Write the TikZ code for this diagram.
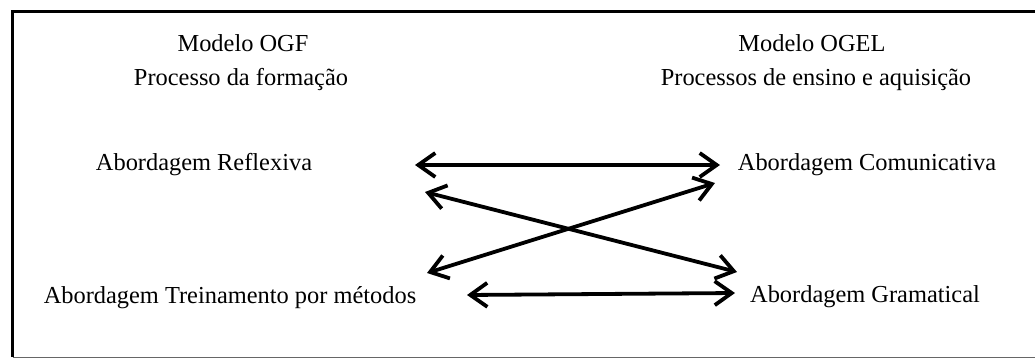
\documentclass[tikz,border=0pt]{standalone}
\usepackage{fontspec}
\setmainfont{Liberation Serif}
\usetikzlibrary{arrows.meta}
\tikzset{
  lbl/.style={inner sep=0pt, font=\fontsize{12.2}{14}\selectfont},
  link/.style={line width=1.9pt,
    {Straight Barb[length=8.5pt,width=12pt]}-{Straight Barb[length=8.5pt,width=12pt]}},
}
\begin{document}
\begin{tikzpicture}[x=0.5pt, y=-0.5pt]
  \useasboundingbox (0,0) rectangle (1035,360);

  % frame
  \draw[line width=1.7pt] (12.5,357) -- (12.5,11.5) -- (1035,11.5);
  \draw[line width=0.6pt, black!60] (12.5,357.5) -- (1035,357.5);

  % headings
  \node[lbl] (ogf)  at (243,43) {Modelo OGF};
  \node[lbl] (form) at (241,80) {Processo da formação};
  \node[lbl] (ogel) at (812,43) {Modelo OGEL};
  \node[lbl] (ens)  at (816,80) {Processos de ensino e aquisição};

  % approaches
  \node[lbl] (refl) at (204,165) {Abordagem Reflexiva};
  \node[lbl] (trei) at (230,298) {Abordagem Treinamento por métodos};
  \node[lbl] (comu) at (867,165) {Abordagem Comunicativa};
  \node[lbl] (gram) at (865,297) {Abordagem Gramatical};

  % arrow ends
  \coordinate (r1) at (415,165);
  \coordinate (r2) at (425,192);
  \coordinate (t1) at (427,273);
  \coordinate (t2) at (467,295);
  \coordinate (c1) at (720,165);
  \coordinate (c2) at (715,183);
  \coordinate (g1) at (737,272);
  \coordinate (g2) at (735,293);

  \draw[link] (r1) -- (c1);
  \draw[link] (r2) -- (g1);
  \draw[link] (t1) -- (c2);
  \draw[link] (t2) -- (g2);
\end{tikzpicture}
\end{document}
